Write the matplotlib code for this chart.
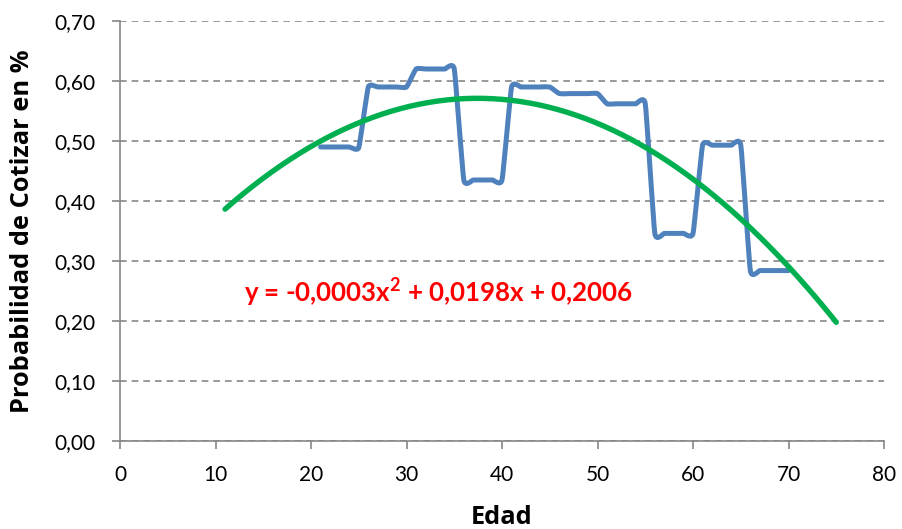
import numpy as np
import matplotlib.pyplot as plt
from matplotlib.path import Path
from matplotlib.patches import PathPatch
from matplotlib.ticker import FuncFormatter

# Edad y probabilidad de cotizar
edad = list(range(21, 71))
prob = [0.490, 0.490, 0.490, 0.490, 0.489,
        0.590, 0.590, 0.590, 0.590, 0.590,
        0.620, 0.620, 0.620, 0.620, 0.620,
        0.435, 0.435, 0.435, 0.435, 0.435,
        0.590, 0.590, 0.590, 0.590, 0.590,
        0.579, 0.579, 0.579, 0.579, 0.579,
        0.562, 0.562, 0.562, 0.562, 0.562,
        0.346, 0.346, 0.346, 0.346, 0.346,
        0.493, 0.493, 0.493, 0.493, 0.493,
        0.284, 0.284, 0.284, 0.284, 0.284]

# Tendencia polinómica (coeficientes sin redondear)
coef = [-0.0002645, 0.0198, 0.2006]
rango_tendencia = (11, 75)
ecuacion = 'y = -0,0003x$^{\\mathbf{2}}$ + 0,0198x + 0,2006'

plt.rcParams['font.family'] = ['Lato', 'DejaVu Sans']
plt.rcParams['mathtext.fontset'] = 'custom'
plt.rcParams['mathtext.rm'] = 'Lato'
plt.rcParams['mathtext.bf'] = 'Lato:bold'

fig = plt.figure(figsize=(9.03, 5.29), dpi=100)
ax = fig.add_axes([0.1329, 0.1664, 0.979 - 0.1329, 0.9603 - 0.1664])


def linea_suavizada(x, y, f=1 / 14):
    # curva de Bezier entre puntos (suavizado tipo Excel)
    pts = np.column_stack([x, y]).astype(float)
    verts = [pts[0]]
    codes = [Path.MOVETO]
    n = len(pts)
    for i in range(n - 1):
        p0 = pts[max(i - 1, 0)]
        p1 = pts[i]
        p2 = pts[i + 1]
        p3 = pts[min(i + 2, n - 1)]
        c1 = p1 + (p2 - p0) * f
        c2 = p2 - (p3 - p1) * f
        verts += [c1, c2, p2]
        codes += [Path.CURVE4] * 3
    return Path(verts, codes)


ax.add_patch(PathPatch(linea_suavizada(edad, prob), fill=False,
                       edgecolor='#4F81BD', lw=3.6, capstyle='round',
                       joinstyle='round', zorder=3))

xt = np.linspace(rango_tendencia[0], rango_tendencia[1], 200)
ax.plot(xt, np.polyval(coef, xt), color='#00B050', lw=3.9,
        solid_capstyle='round', zorder=4)

ax.text(13, 0.247, ecuacion, color='#FF0000', fontsize=18.6,
        fontweight='bold', va='center', ha='left')

ax.set_xlim(0, 80)
ax.set_ylim(0, 0.70)
ax.set_xticks(range(0, 81, 10))
ax.set_yticks(np.arange(0, 0.71, 0.1))
ax.yaxis.set_major_formatter(FuncFormatter(lambda v, p: f'{v:.2f}'.replace('.', ',')))
ax.tick_params(labelsize=15, color='#868686', width=1.2, length=6,
               direction='out')
ax.tick_params(axis='y', pad=12)
ax.tick_params(axis='x', pad=11)

ax.grid(axis='y', linestyle=(0, (4, 3)), color='#888888', lw=1.2)
ax.set_axisbelow(True)
for s in ['top', 'right']:
    ax.spines[s].set_visible(False)
for s in ['left', 'bottom']:
    ax.spines[s].set_color('#868686')
    ax.spines[s].set_linewidth(1.2)

etiqueta = dict(fontsize=18.3, fontweight='bold', va='center',
                family=['Open Sans', 'DejaVu Sans'])
ax.set_xlabel('Edad', **etiqueta)
ax.set_ylabel('Probabilidad de Cotizar en %', **etiqueta)
ax.xaxis.set_label_coords(0.5, -0.183)
ax.yaxis.set_label_coords(-0.128, 0.5)

fig.savefig('out.png', dpi=100)
